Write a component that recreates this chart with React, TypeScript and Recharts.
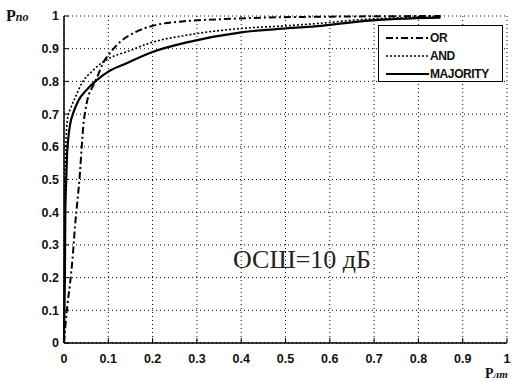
import React from "react";
import { LineChart, Line, XAxis, YAxis, CartesianGrid, Legend } from "recharts";

// values: [P лт, P по]
const orPoints: [number, number][] = [
  [0, 0], [0.003, 0.05], [0.008, 0.12], [0.0135, 0.18], [0.02, 0.27], [0.025, 0.36],
  [0.03, 0.43], [0.036, 0.52], [0.04, 0.6], [0.044, 0.67], [0.048, 0.71], [0.054, 0.75],
  [0.065, 0.785], [0.077, 0.82], [0.088, 0.856], [0.104, 0.887], [0.126, 0.92],
  [0.16, 0.95], [0.2, 0.97], [0.28, 0.985], [0.35, 0.99], [0.45, 0.995], [0.6, 0.998], [0.85, 1]
];
const andPoints: [number, number][] = [
  [0, 0], [0.001, 0.3], [0.002, 0.5], [0.004, 0.6], [0.006, 0.66], [0.01, 0.7],
  [0.0135, 0.713], [0.025, 0.75], [0.04, 0.794], [0.0625, 0.83], [0.089, 0.86],
  [0.11, 0.876], [0.14, 0.89], [0.2, 0.92], [0.28, 0.942], [0.4, 0.962], [0.5, 0.97],
  [0.58, 0.978], [0.68, 0.99], [0.85, 0.997]
];
const majorityPoints: [number, number][] = [
  [0, 0], [0.002, 0.2], [0.003, 0.4], [0.005, 0.5], [0.007, 0.58], [0.01, 0.63],
  [0.014, 0.67], [0.02, 0.7], [0.032, 0.74], [0.051, 0.774], [0.074, 0.804], [0.1, 0.83],
  [0.14, 0.855], [0.2, 0.89], [0.28, 0.92], [0.4, 0.95], [0.5, 0.962], [0.58, 0.97],
  [0.68, 0.985], [0.85, 0.995]
];

const xTicks = [0, 0.1, 0.2, 0.3, 0.4, 0.5, 0.6, 0.7, 0.8, 0.9, 1];
const yTicks = [0, 0.1, 0.2, 0.3, 0.4, 0.5, 0.6, 0.7, 0.8, 0.9, 1];
const seriesNames = ["OR", "AND", "MAJORITY"];

const toRows = (pts: [number, number][]) => pts.map(([x, y]) => ({ x, y }));

const styles: Record<string, { dash?: string; width: number }> = {
  OR: { dash: "7 3 2 3", width: 2 },
  AND: { dash: "2 2", width: 1.6 },
  MAJORITY: { width: 2.2 }
};

const series = [
  { name: seriesNames[0], data: toRows(orPoints) },
  { name: seriesNames[1], data: toRows(andPoints) },
  { name: seriesNames[2], data: toRows(majorityPoints) }
];

const tickFont = { fontFamily: "'Liberation Sans', Arial, sans-serif", fontWeight: 700, fontSize: 12.5, fill: "#111" };
const fmt = (v: number) => String(v);

const LegendBox = () => (
  <div
    style={{
      width: 125,
      height: 57,
      border: "1.5px solid #000",
      background: "#fff",
      boxSizing: "border-box",
      padding: "3px 0 0 7px",
      fontFamily: "'Liberation Sans', Arial, sans-serif",
      fontWeight: 700,
      fontSize: 12,
      color: "#111"
    }}
  >
    {seriesNames.map((n) => (
      <div key={n} style={{ display: "flex", alignItems: "center", height: 18 }}>
        <svg width={43} height={6} style={{ marginRight: 1 }}>
          <line x1={0} y1={3} x2={43} y2={3} stroke="#000" strokeWidth={styles[n].width} strokeDasharray={styles[n].dash} />
        </svg>
        <span style={{ letterSpacing: -0.4 }}>{n}</span>
      </div>
    ))}
  </div>
);

export default function App() {
  return (
    <div style={{ position: "absolute", left: 0, top: 0, width: 521, height: 381, background: "#fff" }}>
      <LineChart width={521} height={381} margin={{ top: 16, right: 14, bottom: 13, left: 0 }}>
        <CartesianGrid stroke="#000" strokeDasharray="1 3" strokeWidth={1} />
        <XAxis
          type="number"
          dataKey="x"
          domain={[0, 1]}
          ticks={xTicks}
          tickFormatter={fmt}
          height={25}
          tickSize={-5}
          tickMargin={16}
          tick={tickFont}
          axisLine={{ stroke: "#000", strokeWidth: 1.5 }}
          tickLine={{ stroke: "#000" }}
        />
        <XAxis
          xAxisId="top"
          orientation="top"
          type="number"
          dataKey="x"
          domain={[0, 1]}
          ticks={xTicks}
          tickFormatter={() => ""}
          height={0}
          tickSize={-5}
          axisLine={{ stroke: "#000", strokeWidth: 1.5 }}
          tickLine={{ stroke: "#000" }}
        />
        <YAxis
          type="number"
          domain={[0, 1]}
          ticks={yTicks}
          tickFormatter={fmt}
          width={64}
          tickSize={-5}
          tickMargin={10}
          tick={tickFont}
          axisLine={{ stroke: "#000", strokeWidth: 1.5 }}
          tickLine={{ stroke: "#000" }}
        />
        <YAxis
          yAxisId="right"
          orientation="right"
          type="number"
          domain={[0, 1]}
          ticks={yTicks}
          tickFormatter={() => ""}
          width={0}
          tickSize={-5}
          axisLine={{ stroke: "#000", strokeWidth: 1.5 }}
          tickLine={{ stroke: "#000" }}
        />
        {series.map((s) => (
          <Line
            key={s.name}
            name={s.name}
            data={s.data}
            dataKey="y"
            type="monotone"
            stroke="#000"
            strokeWidth={styles[s.name].width}
            strokeDasharray={styles[s.name].dash}
            dot={false}
            activeDot={false}
            isAnimationActive={false}
          />
        ))}
        <Legend
          layout="vertical"
          align="center"
          verticalAlign="middle"
          content={() => <LegendBox />}
          wrapperStyle={{ position: "absolute", left: 378, top: 25, width: 125, height: 57 }}
        />
      </LineChart>
      <div style={{ position: "absolute", left: 6, top: 8, lineHeight: "16px", fontFamily: "'Liberation Serif', serif", fontWeight: 700, color: "#111", whiteSpace: "nowrap" }}>
        <span style={{ fontSize: 16 }}>P</span>
        <span style={{ fontSize: 12, fontStyle: "italic" }}>по</span>
      </div>
      <div style={{ position: "absolute", left: 485, top: 366, lineHeight: "14px", fontFamily: "'Liberation Serif', serif", fontWeight: 700, color: "#111", whiteSpace: "nowrap" }}>
        <span style={{ fontSize: 14 }}>P</span>
        <span style={{ fontSize: 11, fontStyle: "italic" }}>лт</span>
      </div>
      <div style={{ position: "absolute", left: 233, top: 245, fontFamily: "'Liberation Serif', serif", fontSize: 26, color: "#222", whiteSpace: "nowrap" }}>
        ОСШ=10 дБ
      </div>
    </div>
  );
}
